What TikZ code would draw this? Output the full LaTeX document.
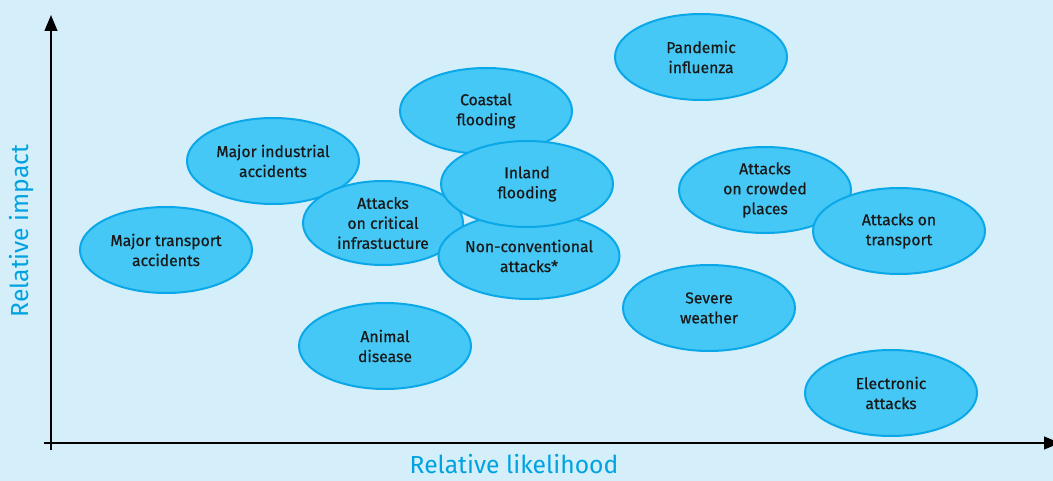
\documentclass[tikz,border=0pt]{standalone}
\usepackage{fontspec}
\setmainfont{Fira Sans}
\newfontfamily\riskfont{Fira Sans}[FakeBold=0.6]
\usetikzlibrary{arrows.meta,shapes.geometric}

\definecolor{bgblue}{RGB}{212,238,250}
\definecolor{fillblue}{RGB}{69,200,245}
\definecolor{lineblue}{RGB}{10,168,232}
\definecolor{labelblue}{RGB}{0,163,224}

\tikzset{
  risk/.style={ellipse, draw=lineblue, fill=fillblue, line width=1.5pt,
    minimum width=129pt, minimum height=64.5pt, inner sep=0pt,
    align=center, font=\riskfont\fontsize{11.8}{15}\selectfont, text=black!90},
  axis/.style={line width=1.6pt, -{Triangle[width=9.5pt,length=12pt]}},
  axislabel/.style={text=labelblue, font=\fontsize{18.5}{22}\selectfont}
}

\begin{document}
\begin{tikzpicture}[x=0.75pt,y=0.75pt,yscale=-1,xscale=1]
    \useasboundingbox (0,0) rectangle (1053,481);
    \fill [bgblue] (0,0) rectangle (1053,481);

    % Axes
    \coordinate (origin) at (51,443);
    \coordinate (ytop) at (51,15);
    \coordinate (xend) at (1060,443);
    \draw [axis] (51,450) -- (ytop);
    \draw [axis] (44,443) -- (xend);

    % Axis labels
    \node [axislabel] (likelihood) at (514,464) {Relative likelihood};
    \node [axislabel, rotate=90] (impact) at (22,231) {Relative impact};

    % Risks (back to front)
    \node [risk] (pandemic) at (701,57) {Pandemic\\influenza};
    \node [risk] (industrial) at (273,161) {Major industrial\\accidents};
    \node [risk] (transportacc) at (166,250) {Major transport\\accidents};
    \node [risk, minimum width=120pt, minimum height=63pt] (critical) at (383,223) {Attacks\\on critical\\infrastucture};
    \node [risk] (coastal) at (486,111) {Coastal\\flooding};
    \node [risk, minimum width=134pt] (nonconv) at (529,256) {Non-conventional\\attacks*};
    \node [risk] (inland) at (527,184) {Inland\\flooding};
    \node [risk] (animal) at (385,346) {Animal\\disease};
    \node [risk] (crowded) at (765,190) {Attacks\\on crowded\\places};
    \node [risk] (transport) at (899,231) {Attacks on\\transport};
    \node [risk] (weather) at (709,308) {Severe\\weather};
    \node [risk] (electronic) at (891,393) {Electronic\\attacks};

\end{tikzpicture}
\end{document}
